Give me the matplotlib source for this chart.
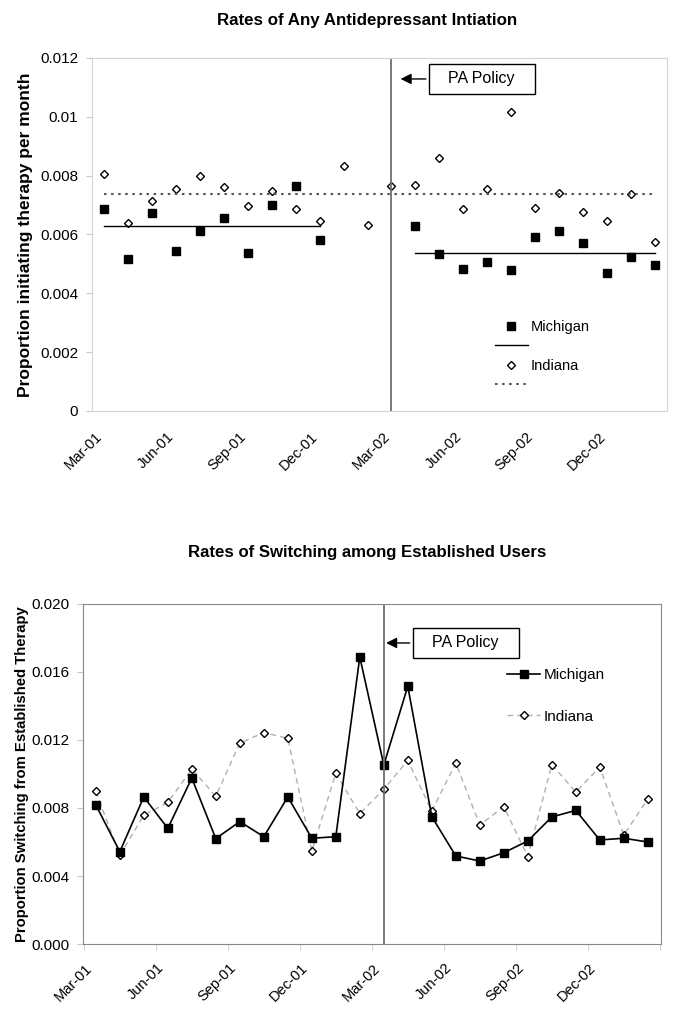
import numpy as np
import matplotlib
matplotlib.use("Agg")
import matplotlib.pyplot as plt
import matplotlib.transforms as mtrans
from matplotlib.lines import Line2D
from matplotlib.patches import Rectangle
from matplotlib.ticker import FuncFormatter

plt.rcParams['font.family'] = ['Liberation Sans', 'DejaVu Sans']

# months Mar-01 .. Feb-03
n_months = 24
tick_pos = [0, 3, 6, 9, 12, 15, 18, 21]
tick_labels = ['Mar-01', 'Jun-01', 'Sep-01', 'Dec-01', 'Mar-02', 'Jun-02', 'Sep-02', 'Dec-02']
policy_month = 12

# initiation rates (no Michigan data Jan-02 .. Mar-02)
nan = np.nan
mi_init = [0.00687, 0.00518, 0.00673, 0.00545, 0.00613, 0.00655, 0.00537, 0.00699, 0.00765, 0.00582,
           nan, nan, nan,
           0.00630, 0.00535, 0.00482, 0.00508, 0.00479, 0.00590, 0.00612, 0.00571, 0.00470, 0.00525, 0.00497]
in_init = [0.00805, 0.00639, 0.00713, 0.00756, 0.00799, 0.00760, 0.00698, 0.00747, 0.00686, 0.00646,
           0.00834, 0.00632, 0.00766,
           0.00767, 0.00859, 0.00688, 0.00755, 0.01017, 0.00689, 0.00740, 0.00676, 0.00645, 0.00738, 0.00573]

# mean levels (start month, end month, value)
mi_pre = (0, 9, 0.00628)
mi_post = (13, 23, 0.00537)
in_all = (0, 23, 0.00738)

# switching rates
mi_switch = [0.00818, 0.00543, 0.00865, 0.00680, 0.00976, 0.00620, 0.00720, 0.00631, 0.00865, 0.00622,
             0.00631, 0.01688, 0.01053, 0.01516, 0.00749, 0.00518, 0.00488, 0.00537, 0.00606, 0.00747,
             0.00786, 0.00612, 0.00622, 0.00600]
in_switch = [0.00898, 0.00522, 0.00757, 0.00833, 0.01029, 0.00869, 0.01182, 0.01243, 0.01210, 0.00547,
             0.01004, 0.00767, 0.00910, 0.01080, 0.00782, 0.01065, 0.00700, 0.00808, 0.00514, 0.01055,
             0.00894, 0.01041, 0.00641, 0.00853]

x = np.arange(n_months)

fig = plt.figure(figsize=(6.78, 10.13), dpi=100)
ax1 = fig.add_axes([0.1357, 0.5943, 0.8481, 0.3485])
ax2 = fig.add_axes([0.1229, 0.0681, 0.8520, 0.3357])


def shift_labels(ax, dx_px, dy_px):
    off = mtrans.ScaledTranslation(dx_px / 100.0, dy_px / 100.0, fig.dpi_scale_trans)
    for lab in ax.get_xticklabels():
        lab.set_transform(lab.get_transform() + off)


# ---- top chart
ax1.plot(x, mi_init, linestyle='none', marker='s', ms=6, color='black')
ax1.plot(x, in_init, linestyle='none', marker='D', ms=4.2, mfc='white', mec='black', mew=1)
ax1.plot([mi_pre[0], mi_pre[1]], [mi_pre[2]] * 2, color='black', lw=1)
ax1.plot([mi_post[0], mi_post[1]], [mi_post[2]] * 2, color='black', lw=1)
ax1.plot([in_all[0], in_all[1]], [in_all[2]] * 2, color='#555555', lw=1.5, linestyle=(0, (1.2, 2.2)))
ax1.axvline(policy_month, color='#707070', lw=1.3)

ax1.set_xlim(-0.5, 23.5)
ax1.set_ylim(0, 0.012)
ax1.set_yticks(np.arange(0, 0.0121, 0.002))
ax1.yaxis.set_major_formatter(FuncFormatter(lambda v, p: '%g' % round(v, 4)))
ax1.set_xticks(tick_pos)
ax1.set_xticklabels(tick_labels, rotation=45, ha='right', rotation_mode='anchor')
ax1.tick_params(axis='x', length=0, pad=9, labelsize=10.5)
ax1.tick_params(axis='y', length=4, color='#c8c8c8', pad=6, labelsize=11)
shift_labels(ax1, -9, -6)
for s in ax1.spines.values():
    s.set_color('#d4d4d4')
ax1.set_title('Rates of Any Antidepressant Intiation', fontsize=12.2, fontweight='bold', pad=24, x=0.478)
ax1.set_ylabel('Proportion initiating therapy per month', fontsize=12.5, fontweight='bold', labelpad=5)

h1 = [Line2D([], [], linestyle='none', marker='s', ms=6, color='black'),
      Line2D([], [], color='black', lw=1),
      Line2D([], [], linestyle='none', marker='D', ms=4.2, mfc='white', mec='black', mew=1),
      Line2D([], [], color='#555555', lw=1.5, linestyle=(0, (1.2, 2.2)))]
ax1.legend(h1, ['Michigan', ' ', 'Indiana', ' '], loc='center left', bbox_to_anchor=(0.70, 0.155),
           frameon=False, fontsize=10.5, handlelength=2.3, handletextpad=0.2, labelspacing=0.38,
           borderpad=0, borderaxespad=0)

ax1.add_patch(Rectangle((0.5855, 0.8980), 0.1843, 0.0850, transform=ax1.transAxes,
                        facecolor='white', edgecolor='black', lw=1, zorder=5))
ax1.text(0.6777, 0.9405, 'PA Policy', transform=ax1.transAxes, ha='center', va='center',
         fontsize=11.5, zorder=6)
ax1.annotate('', xy=(0.5318, 0.9405), xytext=(0.5855, 0.9405), xycoords='axes fraction',
             arrowprops=dict(arrowstyle='-|>', color='black', lw=1, mutation_scale=16))

# ---- bottom chart
ax2.plot(x, in_switch, color='#b0b0b0', lw=1, linestyle=(0, (4, 3)), marker='D', ms=4.2,
         mfc='white', mec='black', mew=1, label='Indiana')
ax2.plot(x, mi_switch, color='black', lw=1.2, marker='s', ms=6, label='Michigan')
ax2.axvline(policy_month, color='#707070', lw=1.3)

ax2.set_xlim(-0.52, 23.55)
ax2.set_ylim(0, 0.020)
ax2.set_yticks(np.arange(0, 0.0201, 0.004))
ax2.yaxis.set_major_formatter(FuncFormatter(lambda v, p: '%.3f' % v))
ax2.set_xticks(tick_pos)
ax2.set_xticklabels(tick_labels, rotation=45, ha='right', rotation_mode='anchor')
ax2.set_xticks([-0.5] + [p - 0.5 for p in tick_pos[1:]] + [23.5], minor=True)
ax2.tick_params(axis='x', which='major', length=0, pad=10, labelsize=10.5)
ax2.tick_params(axis='x', which='minor', length=4, color='#c8c8c8')
ax2.tick_params(axis='y', length=4, color='#c8c8c8', pad=6, labelsize=11)
shift_labels(ax2, -11, -3)
for s in ax2.spines.values():
    s.set_color('#888888')
ax2.set_title('Rates of Switching among Established Users', fontsize=12.1, fontweight='bold', pad=34, x=0.491)
ax2.set_ylabel('Proportion Switching from Established Therapy', fontsize=10.7, fontweight='bold', labelpad=2)

hs, ls = ax2.get_legend_handles_labels()
ax2.legend(hs[::-1], ls[::-1], loc='center left', bbox_to_anchor=(0.733, 0.73), frameon=False,
           fontsize=11, handlelength=2.2, handletextpad=0.2, labelspacing=1.8,
           borderpad=0, borderaxespad=0)

ax2.add_patch(Rectangle((0.5699, 0.8412), 0.1840, 0.0882, transform=ax2.transAxes,
                        facecolor='white', edgecolor='black', lw=1, zorder=5))
ax2.text(0.6619, 0.8853, 'PA Policy', transform=ax2.transAxes, ha='center', va='center',
         fontsize=11.5, zorder=6)
ax2.annotate('', xy=(0.5193, 0.8853), xytext=(0.5699, 0.8853), xycoords='axes fraction',
             arrowprops=dict(arrowstyle='-|>', color='black', lw=1, mutation_scale=16))

fig.savefig('out.png', dpi=100)
